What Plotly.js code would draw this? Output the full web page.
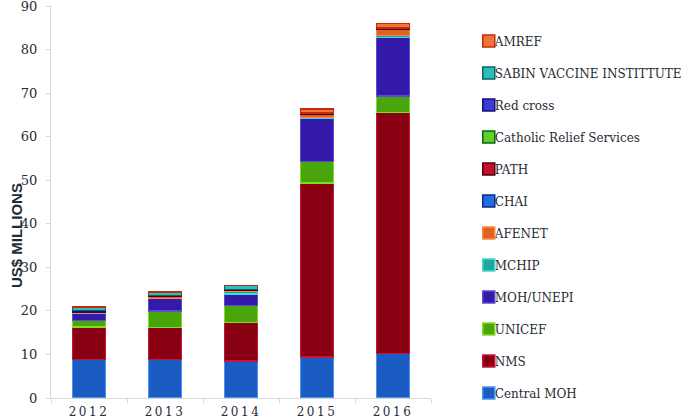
<!DOCTYPE html>
<html>
<head>
<meta charset="utf-8">
<script src="https://cdn.plot.ly/plotly-3.0.1.min.js"></script>
<style>
  html, body { margin: 0; padding: 0; background: #fff; }
  #chart { width: 685px; height: 420px; }
  .xtick text { letter-spacing: 2.5px; }
</style>
</head>
<body>
<div id="chart"></div>
<script>
// Categories
const years = ['2012', '2013', '2014', '2015', '2016'];

// Series values (US$ millions), bottom to top of each stack
const centralMOH = [8.86, 8.86, 8.47, 9.46, 10.2];
const nms        = [7.45, 7.33, 8.85, 39.85, 55.3];
const unicef     = [1.5, 3.8, 3.9, 5.04, 3.8];
const mohUnepi   = [1.55, 2.84, 2.65, 9.85, 13.5];
const mchip      = [0, 0, 0.6, 0.2, 0.4];
const afenet     = [0.4, 0.5, 0.25, 0.7, 1.4];
const chai       = [0, 0, 0, 0, 0];
const path       = [0, 0.25, 0.2, 0.3, 0.4];
const catholic   = [0, 0, 0, 0, 0];
const redCross   = [0.35, 0, 0, 0, 0];
const sabin      = [0.8, 0.76, 0.95, 0, 0];
const amref      = [0, 0, 0, 0.9, 1.0];

// Series names
const names = ['Central MOH', 'NMS', 'UNICEF', 'MOH/UNEPI', 'MCHIP', 'AFENET',
               'CHAI', 'PATH', 'Catholic Relief Services', 'Red cross',
               'SABIN VACCINE INSTITTUTE', 'AMREF'];
const values = [centralMOH, nms, unicef, mohUnepi, mchip, afenet,
                chai, path, catholic, redCross, sabin, amref];
// fill colour and border colour per series
const fills   = ['#1b5cc2', '#880012', '#48a60a', '#3519a8', '#1fa6a0', '#de6222',
                 '#1f6fe0', '#c0102e', '#5ecf2c', '#3c3cd0', '#2fbcbc', '#f07434'];
const borders = ['#4a92f2', '#c8143e', '#82de22', '#5c4ad8', '#44d8d0', '#f8894a',
                 '#0a2a8e', '#520010', '#0b660c', '#12127c', '#0a6262', '#c22a12'];

const traces = names.map((n, i) => ({
  type: 'bar',
  name: n,
  x: years,
  y: values[i],
  legendgroup: 'g' + i,
  legendrank: names.length - i,
  marker: { color: fills[i], line: { color: borders[i], width: 1.5 } },
  hoverinfo: 'name+y'
}));

const textColor = '#1f2c34';
const axisColor = '#d3dcdc';

const layout = {
  width: 685,
  height: 420,
  margin: { l: 51, r: 224, t: 6, b: 22, pad: 0 },
  paper_bgcolor: '#ffffff',
  plot_bgcolor: '#ffffff',
  barmode: 'stack',
  bargap: 0.56,
  font: { family: '"DejaVu Serif", serif', size: 12, color: textColor },
  xaxis: {
    type: 'category',
    showline: true, linecolor: axisColor, linewidth: 1,
    ticks: 'outside', tickson: 'boundaries', ticklen: 4, tickcolor: axisColor,
    showgrid: false, zeroline: false,
    tickfont: { family: '"DejaVu Serif", serif', size: 12, color: textColor },
    ticklabelstandoff: 3
  },
  yaxis: {
    range: [0, 90], dtick: 10,
    showline: true, linecolor: axisColor, linewidth: 1,
    ticks: 'outside', ticklen: 4, tickcolor: axisColor,
    showgrid: false, zeroline: false,
    ticklabeloverflow: 'allow',
    tickfont: { family: '"DejaVu Serif", serif', size: 13, color: textColor },
    ticklabelstandoff: 6
  },
  legend: {
    x: 1.0415, xanchor: 'left',
    y: 0.948, yanchor: 'top',
    traceorder: 'grouped',
    tracegroupgap: 13,
    font: { family: '"DejaVu Serif", serif', size: 12, color: textColor },
    bgcolor: 'rgba(0,0,0,0)',
    borderwidth: 0
  },
  annotations: [{
    text: '<b>US$ MILLIONS</b>',
    xref: 'paper', yref: 'paper',
    x: -0.09, y: 0.415,
    xanchor: 'center', yanchor: 'middle',
    textangle: -90,
    showarrow: false,
    font: { family: '"Liberation Sans Narrow", "Liberation Sans", sans-serif', size: 15, color: textColor }
  }]
};

Plotly.newPlot('chart', traces, layout, { displayModeBar: false, staticPlot: true }).then(gd => {
  // tighten the legend: move it right and bring the labels closer to the swatches
  const leg = gd.querySelector('.legend');
  if (leg) {
    const tr = leg.getAttribute('transform') || '';
    const m = tr.match(/translate\(\s*([-\d.]+)[ ,]+([-\d.]+)\s*\)/);
    if (m) leg.setAttribute('transform', 'translate(' + (parseFloat(m[1]) + 22) + ',' + m[2] + ')');
    gd.querySelectorAll('.legend .legendtext').forEach(t => {
      t.setAttribute('x', parseFloat(t.getAttribute('x') || 0) - 14);
    });
  }
});
</script>
</body>
</html>
